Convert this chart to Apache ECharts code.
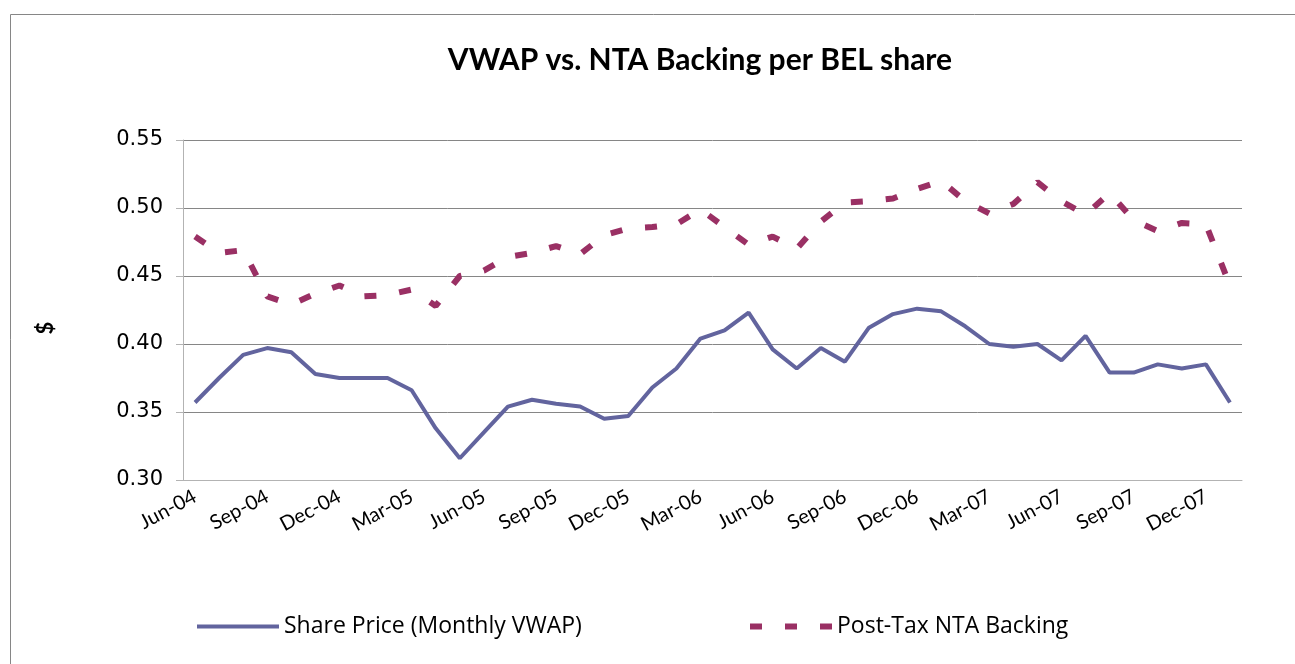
<!DOCTYPE html>
<html>
<head>
<meta charset="utf-8">
<script src="https://cdn.jsdelivr.net/npm/echarts@6/dist/echarts.min.js"></script>
<style>
    html, body {margin: 0; padding: 0; background: #fff;}
    #chart {width: 1295px; height: 664px;}
</style>
</head>
<body>
<div id="chart"></div>
<script>
const months = [
    'Jun-04', 'Jul-04', 'Aug-04', 'Sep-04', 'Oct-04', 'Nov-04', 'Dec-04', 'Jan-05', 'Feb-05', 'Mar-05', 'Apr-05', 'May-05',
    'Jun-05', 'Jul-05', 'Aug-05', 'Sep-05', 'Oct-05', 'Nov-05', 'Dec-05', 'Jan-06', 'Feb-06', 'Mar-06', 'Apr-06', 'May-06',
    'Jun-06', 'Jul-06', 'Aug-06', 'Sep-06', 'Oct-06', 'Nov-06', 'Dec-06', 'Jan-07', 'Feb-07', 'Mar-07', 'Apr-07', 'May-07',
    'Jun-07', 'Jul-07', 'Aug-07', 'Sep-07', 'Oct-07', 'Nov-07', 'Dec-07', 'Jan-08'
];

// monthly VWAP
const sharePrice = [
    0.357, 0.375, 0.392, 0.397, 0.394, 0.378, 0.375, 0.375, 0.375, 0.366, 0.338, 0.316,
    0.335, 0.354, 0.359, 0.356, 0.354, 0.345, 0.347, 0.368, 0.382, 0.404, 0.410, 0.423,
    0.396, 0.382, 0.397, 0.387, 0.412, 0.422, 0.426, 0.424, 0.413, 0.400, 0.398, 0.400,
    0.388, 0.406, 0.379, 0.379, 0.385, 0.382, 0.385, 0.357
];

const ntaBacking = [
    0.479, 0.467, 0.469, 0.435, 0.429, 0.437, 0.443, 0.435, 0.436, 0.440, 0.428, 0.450,
    0.454, 0.464, 0.467, 0.472, 0.466, 0.480, 0.485, 0.486, 0.488, 0.499, 0.486, 0.473,
    0.479, 0.470, 0.490, 0.504, 0.505, 0.507, 0.514, 0.520, 0.505, 0.496, 0.503, 0.519,
    0.505, 0.495, 0.511, 0.491, 0.483, 0.489, 0.488, 0.443
];

const chart = echarts.init(document.getElementById('chart'));

// legend symbol is hidden, only the line sample is kept
const legendBase = {
    top: 615,
    itemWidth: 82, itemHeight: 14,
    padding: 0,
    itemStyle: {opacity: 0},
    textStyle: {fontFamily: 'Open Sans', fontSize: 23, color: '#000'}
};

const option = {
    animation: false,
    backgroundColor: '#fff',
    graphic: [
        {
            type: 'rect',
            shape: {x: 10.5, y: 14.5, width: 1320, height: 700},
            style: {fill: 'none', stroke: '#868686', lineWidth: 1},
            silent: true
        },
        {
            type: 'text',
            x: 700, y: 45,
            style: {
                text: 'VWAP vs. NTA Backing per BEL share',
                textAlign: 'center',
                font: 'bold 30px Lato',
                fill: '#000'
            }
        },
        {
            type: 'text',
            x: 46, y: 328,
            rotation: Math.PI / 2,
            style: {
                text: '$',
                textAlign: 'center',
                textVerticalAlign: 'middle',
                font: 'bold 22px Lato',
                fill: '#000'
            }
        }
    ],
    grid: {left: 183, right: 53, top: 140, bottom: 184},
    legend: [
        Object.assign({}, legendBase, {
            data: ['Share Price (Monthly VWAP)'],
            left: 195,
            lineStyle: {width: 4}
        }),
        Object.assign({}, legendBase, {
            data: ['Post-Tax NTA Backing'],
            left: 747,
            lineStyle: {width: 6}
        })
    ],
    xAxis: {
        type: 'category',
        data: months,
        boundaryGap: true,
        axisLine: {lineStyle: {color: '#b3b3b3', width: 1}},
        axisTick: {interval: 2, length: 7, lineStyle: {color: '#b3b3b3'}},
        axisLabel: {
            interval: 2,
            rotate: 28,
            margin: 15,
            fontFamily: 'Lato',
            fontSize: 20,
            color: '#000'
        },
        splitLine: {show: false}
    },
    yAxis: {
        type: 'value',
        min: 0.30,
        max: 0.55,
        interval: 0.05,
        axisLine: {show: true, lineStyle: {color: '#b3b3b3', width: 1}},
        axisTick: {show: true, length: 7, lineStyle: {color: '#b3b3b3'}},
        axisLabel: {
            margin: 20,
            fontFamily: 'DejaVu Sans',
            fontSize: 21,
            color: '#000',
            formatter: v => v.toFixed(2)
        },
        splitLine: {lineStyle: {color: '#868686', width: 1}}
    },
    series: [
        {
            name: 'Share Price (Monthly VWAP)',
            type: 'line',
            data: sharePrice,
            symbol: 'none',
            color: '#62649e',
            lineStyle: {color: '#62649e', width: 4}
        },
        {
            name: 'Post-Tax NTA Backing',
            type: 'line',
            data: ntaBacking,
            symbol: 'none',
            color: '#9a3064',
            lineStyle: {color: '#9a3064', width: 6, type: [12, 23], cap: 'butt'}
        }
    ]
};

chart.setOption(option);
</script>
</body>
</html>
